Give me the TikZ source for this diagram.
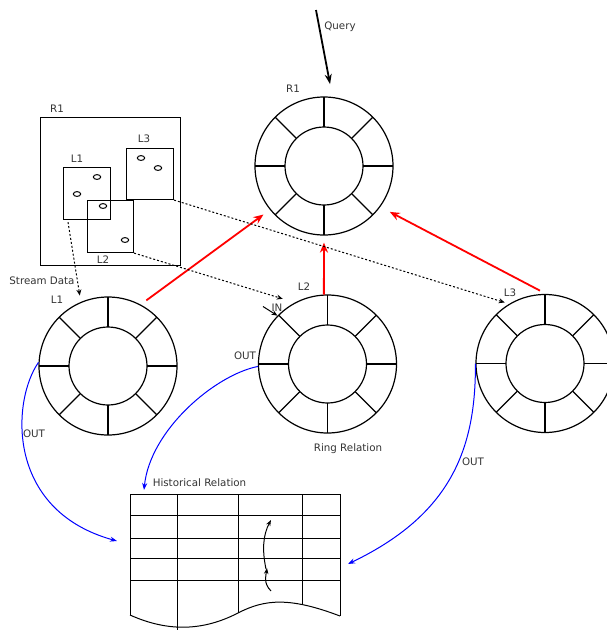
\documentclass[tikz,border=0pt]{standalone}
\usepackage{fontspec}
\setmainfont{DejaVu Sans}
\usetikzlibrary{arrows.meta,calc}
\newcommand\ringspokes[1]{%
  \draw[line width=1.2pt] (#1.center) circle[radius=39];
  \foreach \ang in {0,45,...,315}{\draw[line width=1.2pt] ($(#1.center)+(\ang:39)$) -- ($(#1.center)+(\ang:69)$);}}
\begin{document}
\begin{tikzpicture}[x=1pt,y=-1pt,
  ring/.style={circle,draw,line width=1.2pt,minimum size=138pt,inner sep=0pt},
  lbl/.style={font=\fontsize{10.3}{12}\selectfont,text=black!80,inner sep=0pt},
  box/.style={draw,line width=1.1pt,inner sep=0pt,anchor=north west},
  flow/.style={red,line width=1.8pt,-{Stealth[length=10pt,width=8pt]}},
  outflow/.style={blue,line width=1pt,-{Stealth[length=7pt,width=5pt]}},
  feed/.style={line width=1pt,dash pattern=on 2pt off 2pt,-{Stealth[length=6pt,width=5pt]}},
  oval/.style={line width=1pt}
]
\useasboundingbox (0,0) rectangle (607,630);

% rings
\node[ring] (R1) at (324,166) {};
\node[ring] (L1) at (108,366) {};
\node[ring] (L2) at (327.5,364) {};
\node[ring] (L3) at (545,363.5) {};
\ringspokes{R1}
\ringspokes{L1}
\ringspokes{L2}
\ringspokes{L3}

% region box
\node[box,minimum width=140pt,minimum height=148pt] (r1box) at (40,117) {};
\node[box,minimum width=47pt,minimum height=52pt] (l1box) at (63,167) {};
\node[box,minimum width=46pt,minimum height=52pt] (l2box) at (87,200) {};
\node[box,minimum width=47pt,minimum height=51pt] (l3box) at (126,148) {};
\draw[oval] (97,177) ellipse[x radius=3.7,y radius=2.4];
\draw[oval] (77,194) ellipse[x radius=3.7,y radius=2.4];
\draw[oval] (103,206) ellipse[x radius=3.7,y radius=2.4];
\draw[oval] (125,240) ellipse[x radius=3.7,y radius=2.4];
\draw[oval] (141,158) ellipse[x radius=3.7,y radius=2.4];
\draw[oval] (158,168) ellipse[x radius=3.7,y radius=2.4];

% labels
\node[lbl] (tq) at (340,27) {Query};
\node[lbl] (tr1) at (293,89) {R1};
\node[lbl] (tr1b) at (57,109) {R1};
\node[lbl] (tl1b) at (77,159) {L1};
\node[lbl] (tl3b) at (144,139) {L3};
\node[lbl] (tl2b) at (103,260) {L2};
\node[lbl] (tsd) at (42,281) {Stream Data};
\node[lbl] (tl1) at (57,300) {L1};
\node[lbl] (tl2) at (304,287) {L2};
\node[lbl] (tl3) at (510,293) {L3};
\node[lbl] (tin) at (277,308) {IN};
\node[lbl] (to2) at (245,356) {OUT};
\node[lbl] (to1) at (34,434) {OUT};
\node[lbl] (to3) at (473,462) {OUT};
\node[lbl] (trr) at (348,449) {Ring Relation};
\node[lbl] (thr) at (199.5,483) {Historical Relation};

% query
\coordinate (q0) at (316,10);
\draw[line width=1.8pt,-{Stealth[length=10pt,width=7pt]},shorten >=13pt] (q0) -- (R1.83);

% red flows
\draw[flow,shorten <=7pt,shorten >=8pt] (L1.62) -- (R1.219);
\draw[flow,shorten >=7pt] (L2.93) -- (R1.270);
\draw[flow,shorten <=7pt,shorten >=10.7pt] (L3.89) -- (R1.-36);

% dotted feeds
\draw[feed,shorten >=6.5pt] ($(l1box.south west)+(5,2)$) -- (L1.113);
\draw[feed,shorten >=12.7pt] (l2box.south east) -- (L2.118);
\draw[feed,shorten >=4.6pt] (l3box.south east) -- (L3.121);

% IN arrow
\coordinate (in0) at (263,306.5);
\draw[line width=1pt,-{Stealth[length=6pt,width=5pt]}] (in0) -- (L2.136);

% table
\coordinate (h1) at (117,541);
\coordinate (h2) at (144,490);
\coordinate (h3) at (348,564);
\begin{scope}[line width=1pt]
\draw (130,615) -- (130,494) -- (340,494) -- (340,616);
\foreach \yy in {515,538,558,580}{\draw (130,\yy) -- (340,\yy);}
\draw (177,494) -- (177,630);
\draw (238,494) -- (238,613);
\draw (302,494) -- (302,604);
\draw (130,615) .. controls (170,633) and (205,630) .. (238,613) .. controls (265,599) and (290,597) .. (340,616);
\end{scope}
\draw[line width=1pt,-{Stealth[length=6pt,width=4.5pt]}] (271,591) .. controls (263,583) and (266,575) .. (267,568);
\draw[line width=1pt,-{Stealth[length=6pt,width=4.5pt]}] (266,569) .. controls (262,550) and (263,535) .. (271,520);

% blue outflows
\draw[outflow] (L1.177) .. controls (12,400) and (5,510) .. (h1);
\draw[outflow] (L2.182) .. controls (215,375) and (150,430) .. (h2);
\draw[outflow] (L3.180) .. controls (476,450) and (450,515) .. (h3);
\end{tikzpicture}
\end{document}
